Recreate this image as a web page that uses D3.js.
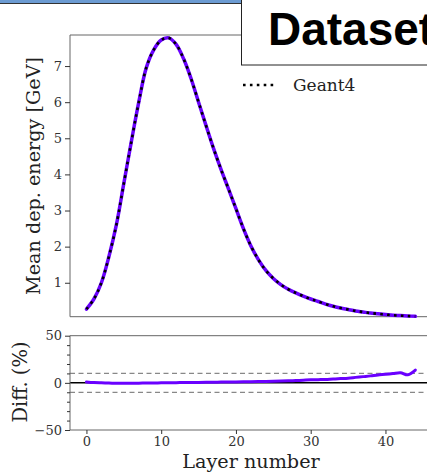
<!DOCTYPE html>
<html><head><meta charset="utf-8">
<script src="https://d3js.org/d3.v7.min.js"></script>
<style>body{margin:0;background:#fff}svg{display:block}</style>
</head><body>
<script>
const layers = d3.range(0, 45);
const energy = [0.27,0.55,1.0,1.72,2.6,3.75,4.9,6.0,6.95,7.45,7.72,7.78,7.6,7.2,6.65,6.0,5.35,4.72,4.14,3.6,3.05,2.5,2.02,1.64,1.34,1.12,0.95,0.82,0.72,0.63,0.55,0.48,0.41,0.35,0.30,0.26,0.22,0.19,0.16,0.14,0.12,0.10,0.09,0.08,0.07];
const diff = [1.0,0.3,0.0,-0.2,-0.5,-0.5,-0.4,-0.3,-0.2,-0.1,0.0,0.1,0.2,0.3,0.4,0.5,0.6,0.7,0.8,0.9,1.0,1.1,1.2,1.3,1.5,1.7,1.9,2.1,2.4,2.8,3.2,3.4,3.6,4.2,4.6,5.0,5.8,6.6,7.4,8.4,9.0,9.8,10.8,8.5,13.5];
const yTicks = [1,2,3,4,5,6,7];
const diffTicks = [-50,0,50];
const xTicks = [0,10,20,30,40];
const legendLabel = "Geant4";
const titleText = "Dataset";

const W = 427, H = 472;
const svg = d3.select("body").append("svg").attr("width", W).attr("height", H);
const serif = "'DejaVu Serif', serif";

const x = d3.scaleLinear().domain([-2.2, 46.2]).range([70, 431.8]);
const y = d3.scaleLinear().domain([0.06, 7.86]).range([316.7, 35]);
const yd = d3.scaleLinear().domain([-50, 50]).range([430, 335.7]);

const axisCol = "#666";
const textCol = "#333";

// main panel spines
const g1 = svg.append("g");
g1.append("line").attr("x1",70).attr("x2",W).attr("y1",35).attr("y2",35).attr("stroke",axisCol).attr("stroke-width",1);
g1.append("line").attr("x1",70).attr("x2",W).attr("y1",316.7).attr("y2",316.7).attr("stroke",axisCol).attr("stroke-width",1);
const ay = g1.append("g").attr("transform","translate(70,0)").call(d3.axisLeft(y).tickValues(yTicks).tickFormat(d3.format("d")).tickSize(5).tickPadding(3));
ay.select(".domain").attr("stroke",axisCol).attr("d","M0,35V316.7");
ay.selectAll(".tick line").attr("stroke",textCol);
ay.selectAll("text").attr("font-family",serif).attr("font-size",13).attr("fill",textCol);

g1.append("text").attr("transform","translate(39.5,176) rotate(-90)").attr("text-anchor","middle")
  .attr("font-family",serif).attr("font-size",19.2).attr("fill","#222").text("Mean dep. energy [GeV]");

const line = d3.line().x((d,i)=>x(layers[i])).y(d=>y(d)).curve(d3.curveCatmullRom.alpha(0.5));
g1.append("path").datum(energy).attr("d",line).attr("fill","none").attr("stroke","#6a00ff").attr("stroke-width",3.5).attr("stroke-linejoin","round").attr("stroke-linecap","round");
g1.append("path").datum(energy).attr("d",line).attr("fill","none").attr("stroke","#000").attr("stroke-width",2.6).attr("stroke-dasharray","2.6,4.3");

// lower panel
const g2 = svg.append("g");
g2.append("line").attr("x1",70).attr("x2",W).attr("y1",335.7).attr("y2",335.7).attr("stroke",axisCol);
[10,-10].forEach(v=>g2.append("line").attr("x1",70).attr("x2",W).attr("y1",yd(v)).attr("y2",yd(v)).attr("stroke","#888").attr("stroke-width",1.2).attr("stroke-dasharray","5,3.5"));
g2.append("line").attr("x1",70).attr("x2",W).attr("y1",yd(0)).attr("y2",yd(0)).attr("stroke","#000").attr("stroke-width",1.5);
const ad = g2.append("g").attr("transform","translate(70,0)").call(d3.axisLeft(yd).tickValues(diffTicks).tickFormat(d3.format("d")).tickSize(5).tickPadding(3));
ad.select(".domain").attr("stroke",axisCol).attr("d","M0,335.7V430");
ad.selectAll(".tick line").attr("stroke",textCol);
ad.selectAll("text").attr("font-family",serif).attr("font-size",13).attr("fill",textCol).text(d=>d<0?"\u2212"+Math.abs(d):d);
g2.append("g").attr("transform","translate(70,0)").call(d3.axisLeft(yd).tickValues(d3.range(-40,50,10).filter(v=>v!==0)).tickSize(3).tickFormat(""))
  .call(s=>{s.select(".domain").remove(); s.selectAll("line").attr("stroke",textCol);});
const ax = g2.append("g").attr("transform","translate(0,430)").call(d3.axisBottom(x).tickValues(xTicks).tickSize(4).tickPadding(3));
ax.select(".domain").attr("stroke",axisCol).attr("d","M70,0H"+W);
ax.selectAll(".tick line").attr("stroke",textCol);
ax.selectAll("text").attr("font-family",serif).attr("font-size",13).attr("fill",textCol);
g2.append("text").attr("x",251).attr("y",468).attr("text-anchor","middle").attr("font-family",serif).attr("font-size",19.2).attr("fill","#222").text("Layer number");
g2.append("text").attr("transform","translate(27,382) rotate(-90)").attr("text-anchor","middle")
  .attr("font-family",serif).attr("font-size",19.5).attr("fill","#222").text("Diff. (%)");
const dline = d3.line().x((d,i)=>x(layers[i])).y(d=>yd(d)).curve(d3.curveCatmullRom.alpha(0.5));
g2.append("path").datum(diff).attr("d",dline).attr("fill","none").attr("stroke","#6a00ff").attr("stroke-width",3).attr("stroke-linejoin","round").attr("stroke-linecap","round");

// legend
svg.append("line").attr("x1",243).attr("x2",276).attr("y1",85).attr("y2",85).attr("stroke","#000").attr("stroke-width",2.6).attr("stroke-dasharray","2.6,4.3");
svg.append("text").attr("x",293).attr("y",91).attr("font-family",serif).attr("font-size",17).attr("fill","#222").text(legendLabel);

// top bar and title box
svg.append("rect").attr("x",0).attr("y",0).attr("width",241).attr("height",3).attr("fill","#6c9bd2");
svg.append("line").attr("x1",0).attr("x2",241).attr("y1",3.5).attr("y2",3.5).attr("stroke","#333").attr("stroke-width",1);
svg.append("rect").attr("x",241.5).attr("y",-2).attr("width",200).attr("height",67).attr("fill","#fff").attr("stroke","#222").attr("stroke-width",1);
svg.append("text").attr("x",268).attr("y",45).attr("font-family","'Liberation Sans', Arial, sans-serif").attr("font-weight","bold").attr("font-size",46).attr("fill","#000").text(titleText);
</script>
</body></html>
